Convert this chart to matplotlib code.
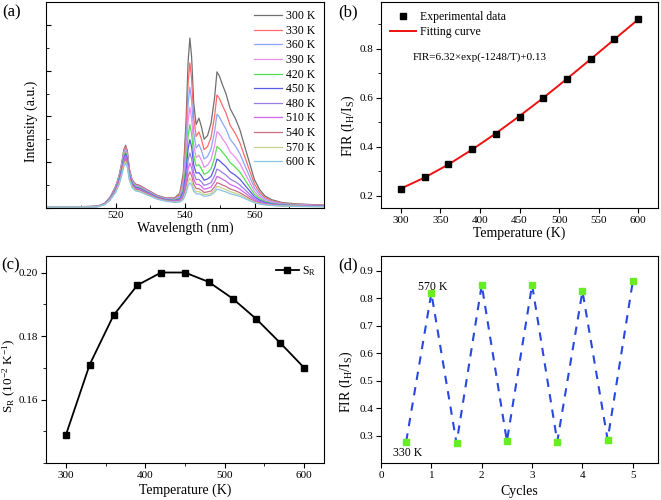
import matplotlib
matplotlib.use("Agg")
import matplotlib.pyplot as plt
from matplotlib.ticker import MultipleLocator

plt.rcParams['font.family'] = ['Liberation Serif', 'DejaVu Serif']
plt.rcParams['mathtext.default'] = 'regular'

# ---------------- data ----------------
wavelength = [500, 505, 510, 513, 515, 517, 518.5, 520, 521, 521.8, 522.4, 522.9, 523.4, 524, 524.8,
              525.8, 527, 528.5, 530, 532, 534.5, 537, 538.5, 539.5, 540.3, 540.9, 541.4, 541.9, 542.5,
              543.2, 544, 544.7, 545.5, 546.5, 547.5, 548.5, 549.2, 549.9, 550.8, 551.8, 553, 554.5,
              555.8, 557.2, 558.5, 560, 561.5, 563, 565, 568, 572, 576, 580]

temps = ['300 K', '330 K', '360 K', '390 K', '420 K', '450 K', '480 K', '510 K', '540 K', '570 K', '600 K']

I_300 = [.030, .030, .030, .034, .041, .110, .247, .466, .699, .986, 1.274, 1.370, 1.247, .849, .617,
         .521, .493, .425, .361, .277, .219, .220, .321, .754, 1.897, 3.200, 3.713, 3.303, 2.303,
         1.823, 1.963, 1.783, 1.503, 1.583, 1.853, 2.403, 2.973, 2.881, 2.688, 2.495, 2.170, 1.954,
         1.709, 1.340, 1.002, .615, .399, .263, .180, .118, .091, .077, .064]
I_330 = [.029, .029, .029, .034, .040, .107, .241, .456, .683, .965, 1.246, 1.340, 1.219, .831, .603,
         .509, .482, .415, .352, .269, .211, .209, .291, .659, 1.628, 2.733, 3.169, 2.821, 1.972,
         1.564, 1.661, 1.510, 1.276, 1.343, 1.547, 2.000, 2.469, 2.392, 2.233, 2.074, 1.804, 1.626,
         1.423, 1.118, .838, .519, .339, .227, .157, .105, .081, .069, .059]
I_360 = [.029, .029, .029, .033, .039, .104, .234, .442, .663, .936, 1.209, 1.300, 1.183, .806, .585,
         .494, .468, .403, .341, .261, .203, .195, .263, .566, 1.367, 2.282, 2.641, 2.353, 1.650,
         1.312, 1.388, 1.264, 1.071, 1.126, 1.290, 1.663, 2.049, 1.985, 1.854, 1.723, 1.501, 1.353,
         1.186, .934, .702, .438, .289, .196, .137, .093, .073, .062, .053]
I_390 = [.028, .028, .028, .032, .038, .101, .227, .428, .643, .907, 1.172, 1.260, 1.147, .781, .567,
         .479, .454, .391, .331, .252, .195, .184, .238, .486, 1.149, 1.904, 2.199, 1.961, 1.380,
         1.101, 1.151, 1.049, .891, .936, 1.058, 1.358, 1.669, 1.618, 1.511, 1.405, 1.226, 1.106,
         .970, .766, .578, .364, .243, .167, .118, .082, .065, .056, .048]
I_420 = [.027, .027, .027, .031, .037, .098, .220, .415, .622, .878, 1.135, 1.220, 1.110, .756, .549,
         .464, .439, .378, .319, .243, .187, .173, .215, .418, .960, 1.577, 1.819, 1.624, 1.148,
         .919, .945, .864, .737, .773, .857, 1.095, 1.341, 1.299, 1.215, 1.130, .988, .892,
         .784, .621, .470, .300, .204, .142, .103, .073, .059, .050, .044]
I_450 = [.026, .026, .026, .030, .035, .094, .212, .401, .602, .850, 1.097, 1.180, 1.074, .732, .531,
         .448, .425, .366, .309, .234, .179, .164, .196, .359, .797, 1.297, 1.492, 1.333, .947,
         .762, .772, .707, .606, .635, .691, .877, 1.069, 1.037, .970, .903, .790, .715,
         .629, .501, .382, .248, .171, .122, .089, .065, .052, .046, .040]
I_480 = [.025, .025, .025, .029, .034, .091, .205, .388, .581, .821, 1.060, 1.140, 1.037, .707, .513,
         .433, .410, .353, .298, .225, .171, .154, .177, .307, .653, 1.047, 1.202, 1.076, .770,
         .623, .626, .574, .495, .518, .556, .700, .850, .823, .771, .720, .631, .572,
         .504, .403, .309, .204, .143, .104, .079, .058, .047, .041, .037]
I_510 = [.024, .024, .024, .028, .033, .088, .198, .374, .561, .792, 1.023, 1.100, 1.001, .682, .495,
         .418, .396, .341, .287, .217, .165, .146, .163, .265, .541, .857, .979, .878, .633,
         .516, .515, .474, .411, .429, .457, .571, .689, .668, .627, .585, .514, .467,
         .412, .332, .256, .173, .123, .092, .070, .053, .043, .038, .034]
I_540 = [.023, .023, .023, .027, .032, .085, .191, .360, .541, .763, .986, 1.060, .965, .657, .477,
         .403, .382, .329, .277, .209, .158, .138, .150, .229, .447, .697, .791, .712, .518,
         .425, .421, .389, .339, .353, .372, .460, .551, .535, .502, .470, .415, .377,
         .334, .270, .211, .144, .106, .081, .062, .048, .040, .035, .032]
I_570 = [.022, .022, .022, .026, .031, .082, .184, .347, .520, .734, .949, 1.020, .928, .632, .459,
         .388, .367, .316, .266, .201, .151, .131, .138, .202, .375, .573, .648, .585, .430,
         .356, .357, .331, .291, .302, .322, .395, .471, .457, .430, .403, .356, .324,
         .287, .233, .183, .128, .095, .074, .058, .045, .038, .033, .030]
I_600 = [.022, .022, .022, .025, .029, .078, .176, .333, .500, .706, .911, .980, .892, .608, .441,
         .372, .353, .304, .256, .192, .145, .125, .130, .182, .325, .489, .551, .498, .369,
         .307, .311, .289, .255, .265, .283, .346, .410, .398, .374, .351, .311, .283,
         .253, .206, .163, .115, .086, .068, .053, .042, .035, .031, .028]
spectra = [I_300, I_330, I_360, I_390, I_420, I_450, I_480, I_510, I_540, I_570, I_600]
spec_colors = ['#707070', '#ff6a6a', '#8aa6ff', '#f08cf0', '#52e052', '#5a5ae8',
               '#9a7ee8', '#d266f2', '#c86e86', '#c8d28a', '#8cc4e4']

temperature = [300, 330, 360, 390, 420, 450, 480, 510, 540, 570, 600]
fir_exp = [0.228, 0.275, 0.330, 0.390, 0.453, 0.523, 0.598, 0.678, 0.758, 0.838, 0.920]
fir_fit = [0.229, 0.274, 0.327, 0.388, 0.454, 0.525, 0.599, 0.677, 0.757, 0.838, 0.919]

sr = [0.1488, 0.1710, 0.1865, 0.1960, 0.2000, 0.2000, 0.1970, 0.1918, 0.1853, 0.1778, 0.1700]

cycles = [0.5, 1, 1.5, 2, 2.5, 3, 3.5, 4, 4.5, 5]
fir_cycle = [0.278, 0.818, 0.272, 0.848, 0.279, 0.848, 0.278, 0.825, 0.285, 0.861]

# ---------------- figure ----------------
fig = plt.figure(figsize=(6.61, 5.0), dpi=100)
W, H = 661.0, 500.0

def add_ax(l, t, r, b):
    return fig.add_axes([l / W, 1 - b / H, (r - l) / W, (b - t) / H])

axa = add_ax(46, 2, 324, 208)
axb = add_ax(381, 2, 658, 208)
axc = add_ax(46, 256, 324, 463)
axd = add_ax(381, 256, 658, 463)

tick_fs = 8
lab_fs = 10

def style(ax, direction):
    ax.tick_params(which='both', direction=direction, labelsize=tick_fs, pad=2)
    ax.tick_params(which='major', length=3.5)
    ax.tick_params(which='minor', length=2)

# (a)
for y, c, lab in zip(spectra, spec_colors, temps):
    axa.plot(wavelength, y, color=c, lw=0.9, label=lab)
axa.set_xlim(500, 580)
axa.set_ylim(0, 4.5)
axa.xaxis.set_minor_locator(MultipleLocator(10))
axa.yaxis.set_major_locator(MultipleLocator(1))
axa.yaxis.set_minor_locator(MultipleLocator(0.5))
axa.set_xticks([520, 540, 560])
style(axa, 'in')
axa.set_yticklabels([])
axa.set_xlabel('Wavelength (nm)', fontsize=lab_fs, labelpad=1)
axa.set_ylabel('Intensity (a.u.)', fontsize=lab_fs)
axa.yaxis.set_label_coords(-0.027, 0.42)
axa.legend(loc='upper right', frameon=False, fontsize=8.5, handlelength=2.3,
           labelspacing=0.22, handletextpad=0.4, borderaxespad=0.3)

# (b)
axb.plot(temperature, fir_fit, color='#ee1111', lw=1.4, label='Fitting curve', zorder=2)
axb.plot(temperature, fir_exp, 's', color='black', ms=4.5, label='Experimental data', zorder=3)
axb.set_xlim(275, 625)
axb.set_ylim(0.15, 0.99)
axb.xaxis.set_major_locator(MultipleLocator(50))
axb.yaxis.set_major_locator(MultipleLocator(0.2))
axb.yaxis.set_minor_locator(MultipleLocator(0.1))
style(axb, 'out')
axb.set_xlabel('Temperature (K)', fontsize=lab_fs, labelpad=1)
axb.set_ylabel('FIR (I$_H$/I$_S$)', fontsize=lab_fs)
axb.yaxis.set_label_coords(-0.087, 0.40)
h, l = axb.get_legend_handles_labels()
axb.legend([h[1], h[0]], [l[1], l[0]], loc='upper left', frameon=False, fontsize=8.5,
           handlelength=2.2, labelspacing=0.25, handletextpad=0.3, borderaxespad=0.4)
axb.text(0.115, 0.733, 'FIR=6.32×exp(-1248/T)+0.13', transform=axb.transAxes,
         fontsize=8, va='center')

# (c)
axc.plot(temperature, sr, '-s', color='black', lw=1.3, ms=4.5, label='S$_R$')
axc.set_xlim(275, 625)
axc.set_ylim(0.14, 0.2052)
axc.xaxis.set_major_locator(MultipleLocator(100))
axc.xaxis.set_minor_locator(MultipleLocator(50))
axc.yaxis.set_minor_locator(MultipleLocator(0.01))
axc.set_yticks([0.16, 0.18, 0.20])
axc.set_yticklabels(['0.16', '0.18', '0.20'])
style(axc, 'out')
axc.set_xlabel('Temperature (K)', fontsize=lab_fs, labelpad=3)
axc.set_ylabel('S$_R$ (10$^{-2}$ K$^{-1}$)', fontsize=9.5)
axc.yaxis.set_label_coords(-0.1, 0.42)
axc.legend(loc='upper right', frameon=False, fontsize=8.5, handlelength=2.0,
           handletextpad=0.2, borderaxespad=0.3)

# (d)
axd.plot(cycles, fir_cycle, color='#2848e0', lw=1.5, dashes=(4, 3.5), zorder=2)
axd.plot(cycles, fir_cycle, 's', color='#66ee22', ms=4.5, zorder=3)
axd.set_xlim(0, 5.5)
axd.set_ylim(0.2, 0.953)
axd.xaxis.set_major_locator(MultipleLocator(1))
axd.set_yticks([0.3, 0.4, 0.5, 0.6, 0.7, 0.8, 0.9])
style(axd, 'out')
axd.set_xlabel('Cycles', fontsize=lab_fs, labelpad=4)
axd.set_ylabel('FIR (I$_H$/I$_S$)', fontsize=lab_fs)
axd.yaxis.set_label_coords(-0.094, 0.39)
axd.text(0.74, 0.84, '570 K', fontsize=8.5, va='center')
axd.text(0.24, 0.235, '330 K', fontsize=8.5, va='center')

# panel labels
fig.text(2 / W, 1 - 12 / H, '(a)', fontsize=12, va='center')
fig.text(338 / W, 1 - 12 / H, '(b)', fontsize=12, va='center')
fig.text(1 / W, 1 - 265 / H, '(c)', fontsize=12, va='center')
fig.text(338 / W, 1 - 265 / H, '(d)', fontsize=12, va='center')

fig.savefig('out.png', dpi=100)
